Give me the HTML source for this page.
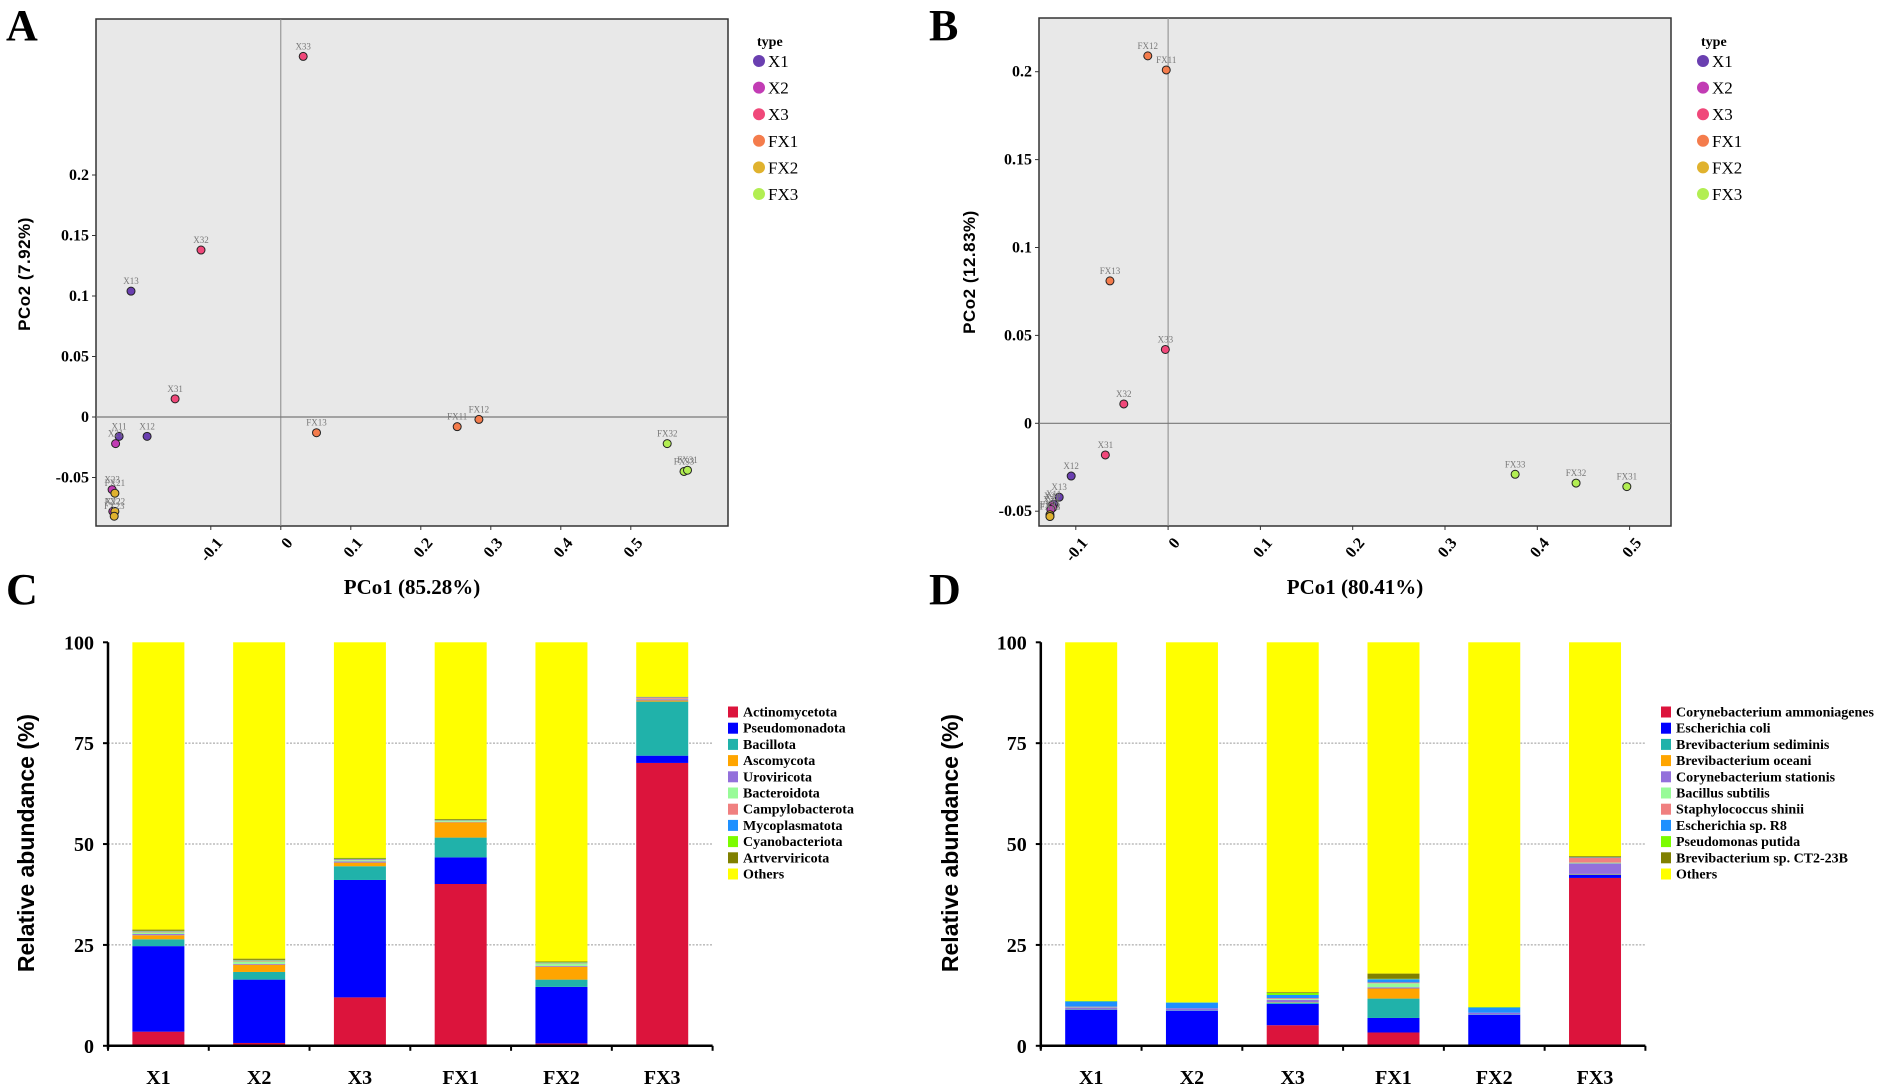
<!DOCTYPE html>
<html><head><meta charset="utf-8">
<style>
html,body{margin:0;padding:0;background:#fff;}
svg{display:block;}
.serif{font-family:"Liberation Serif",serif;font-weight:bold;}
.sans{font-family:"Liberation Sans",sans-serif;font-weight:bold;}
</style></head>
<body>
<svg id="fig" xmlns="http://www.w3.org/2000/svg" width="1902" height="1089" viewBox="0 0 1902 1089">
<rect width="1902" height="1089" fill="#fff"/>
<text class="serif" x="6" y="40" font-size="44">A</text>
<text class="serif" x="929" y="40" font-size="44">B</text>
<text class="serif" x="6" y="604" font-size="44">C</text>
<text class="serif" x="929" y="604" font-size="44">D</text>
</svg>
<script>
// ---------- PCoA data ----------
const groupNames = ['X1','X2','X3','FX1','FX2','FX3'];
const groupColors = ['#6a3fb0','#c23cb4','#f0487a','#f47c4c','#e0b22e','#b2ee52'];
const ptsA_labels = ['X33','X32','X13','X31','X11','X12','X21','X22','X23','FX21','FX22','FX23','FX13','FX11','FX12','FX32','FX33','FX31'];
const ptsA_group  = [2,2,0,2,0,0,1,1,1,4,4,4,3,3,3,5,5,5];
const ptsA_x = [0.032,-0.114,-0.214,-0.151,-0.231,-0.191,-0.236,-0.240,-0.241,-0.237,-0.237,-0.238,0.051,0.252,0.283,0.552,0.576,0.581];
const ptsA_y = [0.298,0.138,0.104,0.015,-0.016,-0.016,-0.022,-0.078,-0.060,-0.063,-0.078,-0.082,-0.013,-0.008,-0.002,-0.022,-0.045,-0.044];
const ptsB_labels = ['FX12','FX11','FX13','X33','X32','X31','X12','X13','X11','X21','X22','X23','FX21','FX22','FX23','FX33','FX32','FX31'];
const ptsB_group  = [3,3,3,2,2,2,0,0,0,1,1,1,4,4,4,5,5,5];
const ptsB_x = [-0.022,-0.002,-0.063,-0.003,-0.048,-0.068,-0.105,-0.118,-0.124,-0.126,-0.125,-0.127,-0.128,-0.128,-0.128,0.376,0.442,0.497];
const ptsB_y = [0.209,0.201,0.081,0.042,0.011,-0.018,-0.030,-0.042,-0.046,-0.047,-0.048,-0.049,-0.052,-0.053,-0.053,-0.029,-0.034,-0.036];
const ticksAx = [-0.1,0,0.1,0.2,0.3,0.4,0.5];
const ticksAy = [-0.05,0,0.05,0.1,0.15,0.2];
const ticksBx = [-0.1,0,0.1,0.2,0.3,0.4,0.5];
const ticksBy = [-0.05,0,0.05,0.1,0.15,0.2];

// ---------- Bar data ----------
const samples = ['X1','X2','X3','FX1','FX2','FX3'];
const phyla = ['Actinomycetota','Pseudomonadota','Bacillota','Ascomycota','Uroviricota','Bacteroidota','Campylobacterota','Mycoplasmatota','Cyanobacteriota','Artverviricota','Others'];
const species = ['Corynebacterium ammoniagenes','Escherichia coli','Brevibacterium sediminis','Brevibacterium oceani','Corynebacterium stationis','Bacillus subtilis','Staphylococcus shinii','Escherichia sp. R8','Pseudomonas putida','Brevibacterium sp. CT2-23B','Others'];
const taxColors = ['#dc143c','#0000ff','#20b2aa','#ffa500','#9370db','#98fb98','#f08080','#1e90ff','#7cfc00','#808000','#ffff00'];
const phylaVals = [
 [3.5,21.2,1.7,1.0,0.3,0.4,0.2,0.1,0.1,0.3],
 [0.7,15.7,1.9,1.8,0.2,0.6,0.2,0.1,0.1,0.3],
 [12.0,29.1,3.4,0.9,0.3,0.3,0.2,0.1,0.1,0.2],
 [40.1,6.6,4.9,3.8,0.1,0.2,0.1,0.1,0.1,0.2],
 [0.6,14.0,1.8,3.2,0.2,0.6,0.1,0.1,0.1,0.2],
 [70.1,1.8,13.4,0.3,0.3,0.1,0.3,0.1,0.0,0.1]
];
const speciesVals = [
 [0.3,8.6,0.1,0.0,0.5,0.1,0.1,1.3,0.1,0.0],
 [0.1,8.6,0.1,0.0,0.5,0.0,0.0,1.4,0.1,0.0],
 [5.1,5.3,0.3,0.1,0.6,0.2,0.2,0.8,0.5,0.2],
 [3.3,3.6,4.8,2.5,0.3,1.0,0.2,0.8,0.1,1.3],
 [0.1,7.6,0.1,0.0,0.4,0.0,0.0,1.3,0.1,0.0],
 [41.6,0.8,0.1,0.1,2.6,0.2,1.2,0.1,0.0,0.3]
];
const barTicks = [0,25,50,75,100];

const NS='http://www.w3.org/2000/svg';
const svg=document.getElementById('fig');
function mk(tag,attrs,parent){const e=document.createElementNS(NS,tag);for(const k in attrs)e.setAttribute(k,attrs[k]);(parent||svg).appendChild(e);return e;}
function fmt(v){let s=(Math.round(v*100)/100).toString();return s;}

function pcoa(cfg){
  const g=mk('g',{});
  
  
  const L=cfg.L,R=cfg.R,T=cfg.T,B=cfg.B;
  const sx=v=>cfg.x0+v*cfg.kx, sy=v=>cfg.y0-v*cfg.ky;
  const bg=mk('rect',{x:L,y:T,width:R-L,height:B-T,fill:'#e8e8e8',stroke:'#333','stroke-width':1.5},g);
  
  
  const vl=mk('line',{x1:sx(0),x2:sx(0),y1:T,y2:B,stroke:'#888','stroke-width':1},g);
  
  
  const hl=mk('line',{x1:L,x2:R,y1:sy(0),y2:sy(0),stroke:'#777','stroke-width':1.2},g);
  
  
  cfg.tx.forEach(t=>{
    const x=sx(t);
    mk('line',{x1:x,x2:x,y1:B,y2:B+4,stroke:'#333'},g);
    const tt=mk('text',{x:x+4,y:B+10,'font-size':16,class:'serif','text-anchor':'end',transform:`rotate(-50 ${x+4} ${B+10})`,dy:'0.7em'},g);
    tt.textContent=fmt(t);
    
    
  });
  cfg.ty.forEach(t=>{
    const y=sy(t);
    mk('line',{x1:L-4,x2:L,y1:y,y2:y,stroke:'#333'},g);
    const tt=mk('text',{x:L-7,y:y+5,'font-size':16,class:'serif','text-anchor':'end'},g);
    tt.textContent=fmt(t);
    
    
  });
  const xt=mk('text',{x:(L+R)/2,y:594,'font-size':21,class:'serif','text-anchor':'middle'},g);
  xt.textContent=cfg.xtitle;
  
  
  const yt=mk('text',{x:0,y:0,'font-size':17,class:'sans','text-anchor':'middle',transform:`translate(${cfg.ytx},${cfg.yty}) rotate(-90)`,'letter-spacing':'0.5'},g);
  yt.textContent=cfg.ytitle;
  
  
  cfg.xs.forEach((v,i)=>{
    const cx=sx(v),cy=sy(cfg.ys[i]);
    const c=mk('circle',{cx:cx,cy:cy,r:4,fill:groupColors[cfg.gr[i]],stroke:'#222','stroke-width':1},g);
    
    
    const lt=mk('text',{x:cx,y:cy-7,'font-size':9,fill:'#777','font-family':'Liberation Serif, serif','text-anchor':'middle'},g);
    lt.textContent=cfg.labels[i];
    
    
  });
  const tl=mk('text',{x:cfg.lx-2,y:46,'font-size':14,class:'serif'},g);
  tl.textContent='type';
  
  
  groupNames.forEach((n,i)=>{
    const y=61+i*26.6;
    const lg=mk('g',{},g);
    
    
    mk('circle',{cx:cfg.lx,cy:y,r:6,fill:groupColors[i]},lg);
    const t=mk('text',{x:cfg.lx+9,y:y+6,'font-size':17,'font-family':'Liberation Serif, serif'},lg);
    t.textContent=n;
  });
}
pcoa({name:'pcoa-panel-a',L:96,R:728,T:19,B:526,x0:280.8,kx:700,y0:417,ky:1210,tx:ticksAx,ty:ticksAy,xs:ptsA_x,ys:ptsA_y,gr:ptsA_group,labels:ptsA_labels,xtitle:'PCo1 (85.28%)',ytitle:'PCo2 (7.92%)',ytx:30,yty:274,lx:759});
pcoa({name:'pcoa-panel-b',L:1039,R:1671,T:18,B:526,x0:1168.1,kx:923,y0:423.3,ky:1758,tx:ticksBx,ty:ticksBy,xs:ptsB_x,ys:ptsB_y,gr:ptsB_group,labels:ptsB_labels,xtitle:'PCo1 (80.41%)',ytitle:'PCo2 (12.83%)',ytx:975,yty:272,lx:1703});

function bars(cfg){
  const g=mk('g',{});
  
  
  const L=cfg.L,R=cfg.R,y0=1045.8,y100=642.3;
  const sy=v=>y0-(v/100)*(y0-y100);
  const band=(R-L)/samples.length,bw=52;
  barTicks.forEach(t=>{
    if(t>0&&t<100){const gl=mk('line',{x1:L,x2:R,y1:sy(t),y2:sy(t),stroke:'#999','stroke-dasharray':'2,1.5','stroke-width':1},g);
      
      }
  });
  cfg.vals.forEach((row,i)=>{
    const cx=L+band*(i+0.5);
    let acc=0;
    const full=row.concat([100-row.reduce((a,b)=>a+b,0)]);
    full.forEach((v,k)=>{
      if(v<=0)return;
      const r=mk('rect',{x:cx-bw/2,y:sy(acc+v),width:bw,height:sy(acc)-sy(acc+v),fill:taxColors[k]},g);
      
      
      acc+=v;
    });
    const lt=mk('text',{x:cx,y:1084,'font-size':20,class:'serif','text-anchor':'middle'},g);
    lt.textContent=samples[i];
    
    
  });
  mk('line',{x1:L,x2:R,y1:y0,y2:y0,stroke:'#000','stroke-width':2.5},g);
  mk('line',{x1:L,x2:L,y1:y100,y2:y0+3,stroke:'#000','stroke-width':2.5},g);
  for(let i=0;i<=samples.length;i++){const x=L+band*i;mk('line',{x1:x,x2:x,y1:y0,y2:y0+5,stroke:'#000','stroke-width':2},g);}
  barTicks.forEach(t=>{
    mk('line',{x1:L-5,x2:L,y1:sy(t),y2:sy(t),stroke:'#000','stroke-width':2},g);
    const tt=mk('text',{x:L-14,y:sy(t)+7,'font-size':20,class:'serif','text-anchor':'end'},g);
    tt.textContent=t;
    
    
  });
  const yt=mk('text',{x:0,y:0,'font-size':23,class:'sans','text-anchor':'middle',transform:`translate(${cfg.ytx},843) rotate(-90)`},g);
  yt.textContent='Relative abundance (%)';
  
  
  cfg.names.forEach((n,k)=>{
    const y=712+k*16.2;
    const lg=mk('g',{},g);
    
    
    mk('rect',{x:cfg.lx,y:y-5.5,width:10,height:11,fill:taxColors[k]},lg);
    const t=mk('text',{x:cfg.lx+15,y:y+4.5,'font-size':14,class:'serif'},lg);
    t.textContent=n;
  });
}
bars({name:'phylum-bar-chart',L:108,R:712.6,vals:phylaVals,names:phyla,ytx:34,lx:728});
bars({name:'species-bar-chart',L:1040.8,R:1645.4,vals:speciesVals,names:species,ytx:958,lx:1661});
</script>
</body></html>
